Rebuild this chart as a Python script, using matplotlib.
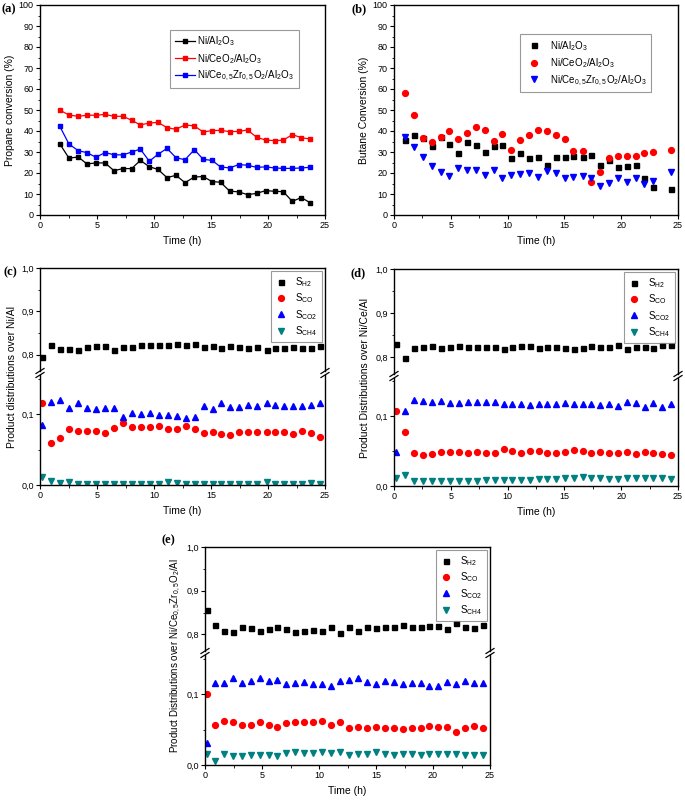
import matplotlib.pyplot as plt
from matplotlib.lines import Line2D
from matplotlib.ticker import MultipleLocator, FuncFormatter

plt.rcParams['font.family'] = ['Liberation Sans', 'DejaVu Sans']
plt.rcParams['mathtext.default'] = 'regular'

W, H = 685, 802

# (a) propane conversion (%)
time_a = [1.72, 2.54, 3.36, 4.12, 4.91, 5.70, 6.49, 7.28, 8.04, 8.80, 9.59, 10.35,
          11.14, 11.93, 12.72, 13.54, 14.32, 15.09, 15.84, 16.63, 17.42, 18.21,
          19.00, 19.79, 20.58, 21.34, 22.13, 22.92, 23.68]
prop_ni = [34.0, 27.1, 27.6, 24.3, 24.8, 24.8, 21.1, 22.1, 22.1, 26.0, 23.0, 21.7,
           17.8, 18.9, 15.4, 18.1, 18.3, 15.9, 15.6, 11.4, 11.0, 9.7, 10.3, 11.6,
           11.3, 11.1, 6.5, 8.3, 5.9]
prop_ce = [50.0, 47.6, 47.0, 47.5, 47.5, 47.9, 47.0, 47.0, 45.1, 42.9, 43.8, 44.1,
           41.6, 40.8, 42.9, 42.4, 39.5, 40.2, 40.3, 39.7, 39.8, 40.5, 37.0, 35.7,
           35.4, 35.6, 38.3, 36.8, 36.2]
prop_cezr = [42.4, 33.8, 30.6, 29.7, 27.5, 29.7, 28.7, 28.6, 30.0, 31.4, 25.6, 28.9,
             31.7, 27.3, 26.3, 31.1, 26.5, 26.0, 22.9, 22.4, 24.0, 23.7, 22.7, 22.9,
             22.4, 22.2, 22.2, 22.4, 22.7]

# (b) butane conversion (%)
time_b = [0.97, 1.73, 2.52, 3.31, 4.10, 4.87, 5.66, 6.42, 7.21, 7.98, 8.77, 9.53,
          10.32, 11.10, 11.88, 12.67, 13.46, 14.25, 15.04, 15.80, 16.60, 17.36,
          18.15, 18.94, 19.70, 20.50, 21.30, 22.05, 22.84, 24.40]
but_ni = [35.7, 38.0, 36.5, 32.8, 37.2, 34.0, 29.5, 35.0, 33.2, 30.2, 33.0, 33.2,
          27.0, 29.5, 27.0, 27.5, 23.8, 27.8, 27.8, 28.3, 27.8, 28.5, 23.8, 26.0,
          22.8, 23.5, 23.8, 17.7, 13.3, 12.5]
but_ce = [58.2, 47.6, 36.8, 34.9, 37.1, 40.0, 36.2, 39.0, 42.1, 40.6, 35.2, 38.6,
          31.0, 35.5, 37.9, 40.7, 40.0, 38.0, 36.3, 30.7, 30.5, 15.6, 20.3, 27.2,
          28.0, 28.1, 28.1, 29.7, 30.2, 30.9]
but_cezr = [37.0, 32.3, 27.5, 23.3, 20.4, 18.6, 22.3, 21.4, 21.5, 19.0, 21.4, 17.7,
            19.0, 19.5, 20.0, 18.3, 21.0, 20.0, 17.7, 18.2, 18.5, 17.4, 13.7, 15.3,
            17.7, 15.6, 17.7, 14.8, 16.1, 20.7]

# (c) product distributions over Ni/Al
time_c = [0.18, 0.97, 1.76, 2.55, 3.34, 4.13, 4.93, 5.72, 6.51, 7.30, 8.09, 8.89,
          9.68, 10.44, 11.23, 12.02, 12.80, 13.58, 14.37, 15.16, 15.92, 16.70,
          17.48, 18.27, 19.06, 19.88, 20.64, 21.44, 22.20, 22.99, 23.75, 24.57]
c_h2 = [0.795, 0.822, 0.813, 0.813, 0.810, 0.817, 0.819, 0.820, 0.810, 0.818, 0.818,
        0.821, 0.821, 0.821, 0.822, 0.824, 0.821, 0.824, 0.817, 0.819, 0.814, 0.819,
        0.818, 0.814, 0.817, 0.811, 0.816, 0.816, 0.818, 0.814, 0.816, 0.820]
c_co = [0.115, 0.059, 0.066, 0.079, 0.076, 0.076, 0.076, 0.073, 0.081, 0.087, 0.082,
        0.082, 0.082, 0.083, 0.079, 0.079, 0.083, 0.079, 0.073, 0.074, 0.072, 0.071,
        0.075, 0.075, 0.075, 0.075, 0.074, 0.075, 0.072, 0.076, 0.073, 0.067]
c_co2 = [0.084, 0.117, 0.120, 0.108, 0.115, 0.108, 0.107, 0.109, 0.109, 0.096, 0.102,
         0.100, 0.102, 0.099, 0.099, 0.097, 0.095, 0.096, 0.111, 0.107, 0.115, 0.110,
         0.110, 0.113, 0.111, 0.116, 0.113, 0.111, 0.112, 0.111, 0.113, 0.116]
c_ch4 = [0.011, 0.005, 0.003, 0.004, 0.002, 0.002, 0.002, 0.001, 0.002, 0.002, 0.002,
         0.002, 0.002, 0.002, 0.004, 0.003, 0.002, 0.002, 0.002, 0.002, 0.002, 0.002,
         0.002, 0.002, 0.002, 0.004, 0.002, 0.002, 0.002, 0.002, 0.003, 0.002]

# (d) product distributions over Ni/Ce/Al
time_d = [0.15, 0.94, 1.73, 2.52, 3.32, 4.11, 4.90, 5.69, 6.48, 7.28, 8.07, 8.86,
          9.65, 10.39, 11.15, 11.94, 12.73, 13.50, 14.26, 15.02, 15.82, 16.61,
          17.37, 18.16, 18.96, 19.75, 20.51, 21.28, 22.07, 22.83, 23.62, 24.41]
d_h2 = [0.831, 0.798, 0.820, 0.824, 0.826, 0.821, 0.824, 0.826, 0.824, 0.823, 0.824,
        0.824, 0.818, 0.824, 0.826, 0.826, 0.820, 0.824, 0.824, 0.821, 0.818, 0.821,
        0.826, 0.824, 0.824, 0.827, 0.818, 0.824, 0.824, 0.821, 0.827, 0.827]
d_co = [0.107, 0.077, 0.047, 0.045, 0.046, 0.049, 0.049, 0.049, 0.048, 0.049, 0.047,
        0.048, 0.053, 0.050, 0.048, 0.050, 0.050, 0.047, 0.048, 0.049, 0.052, 0.050,
        0.047, 0.049, 0.047, 0.047, 0.049, 0.046, 0.049, 0.048, 0.046, 0.044]
d_co2 = [0.049, 0.108, 0.123, 0.122, 0.121, 0.122, 0.119, 0.119, 0.121, 0.120, 0.120,
         0.120, 0.118, 0.117, 0.118, 0.116, 0.118, 0.118, 0.117, 0.119, 0.118, 0.117,
         0.117, 0.116, 0.118, 0.115, 0.121, 0.119, 0.114, 0.119, 0.114, 0.118]
d_ch4 = [0.011, 0.016, 0.007, 0.007, 0.007, 0.007, 0.007, 0.007, 0.007, 0.007, 0.008,
         0.008, 0.008, 0.008, 0.009, 0.009, 0.010, 0.010, 0.010, 0.011, 0.012, 0.013,
         0.012, 0.011, 0.010, 0.010, 0.011, 0.011, 0.012, 0.011, 0.011, 0.010]

# (e) product distributions over Ni/Ce0,5Zr0,5O2/Al
time_e = [0.20, 0.91, 1.70, 2.49, 3.27, 4.06, 4.82, 5.58, 6.34, 7.13, 7.92, 8.71,
          9.50, 10.29, 11.08, 11.87, 12.66, 13.45, 14.21, 14.97, 15.79, 16.58,
          17.34, 18.13, 18.92, 19.68, 20.47, 21.26, 22.05, 22.81, 23.57, 24.36]
e_h2 = [0.855, 0.821, 0.808, 0.806, 0.817, 0.815, 0.807, 0.813, 0.817, 0.812, 0.806,
        0.807, 0.811, 0.808, 0.818, 0.804, 0.816, 0.808, 0.817, 0.815, 0.817, 0.818,
        0.821, 0.818, 0.818, 0.819, 0.819, 0.813, 0.825, 0.818, 0.815, 0.821]
e_co = [0.100, 0.056, 0.062, 0.060, 0.057, 0.056, 0.061, 0.057, 0.053, 0.059, 0.060,
        0.060, 0.060, 0.062, 0.056, 0.061, 0.052, 0.054, 0.052, 0.054, 0.052, 0.052,
        0.051, 0.052, 0.052, 0.055, 0.054, 0.054, 0.047, 0.052, 0.055, 0.052]
e_co2 = [0.031, 0.116, 0.116, 0.123, 0.116, 0.118, 0.122, 0.118, 0.120, 0.114, 0.116,
         0.117, 0.114, 0.114, 0.112, 0.118, 0.120, 0.122, 0.117, 0.114, 0.119, 0.117,
         0.114, 0.116, 0.116, 0.111, 0.112, 0.117, 0.114, 0.118, 0.116, 0.115]
e_ch4 = [0.015, 0.006, 0.016, 0.013, 0.012, 0.014, 0.014, 0.014, 0.012, 0.017, 0.018,
         0.017, 0.017, 0.018, 0.017, 0.018, 0.014, 0.016, 0.015, 0.019, 0.015, 0.014,
         0.016, 0.016, 0.014, 0.015, 0.016, 0.016, 0.015, 0.014, 0.014, 0.014]

cat_labels = [r'Ni/Al$_2$O$_3$', r'Ni/CeO$_2$/Al$_2$O$_3$',
              r'Ni/Ce$_{0,5}$Zr$_{0,5}$O$_2$/Al$_2$O$_3$']
prod_labels = [r'S$_{H2}$', r'S$_{CO}$', r'S$_{CO2}$', r'S$_{CH4}$']
TEAL = '#008080'

fig = plt.figure(figsize=(W / 100, H / 100), dpi=100)


def rect(l, r, t, b):
    return [l / W, 1 - b / H, (r - l) / W, (b - t) / H]


def style(ax):
    ax.tick_params(direction='out', labelsize=6.5, length=3, width=0.8, pad=1.5,
                   top=False, right=False)
    ax.tick_params(which='minor', direction='out', length=1.8, width=0.6,
                   top=False, right=False)
    for s in ax.spines.values():
        s.set_linewidth(1.0)


def time_axis(ax):
    ax.set_xlim(0, 25)
    ax.xaxis.set_major_locator(MultipleLocator(5))
    ax.xaxis.set_minor_locator(MultipleLocator(2.5))
    ax.set_xlabel('Time (h)', fontsize=7.5, labelpad=4)


def tag(x, y, s):
    fig.text(x / W, 1 - y / H, s, fontsize=9, fontweight='bold',
             family='Liberation Serif', va='center', ha='left')


# ---- (a)
ax = fig.add_axes(rect(40, 325, 5, 215))
ax.plot(time_a, prop_ni, '-s', color='black', ms=3.3, lw=0.9, label=cat_labels[0])
ax.plot(time_a, prop_ce, '-s', color='red', ms=3.3, lw=0.9, label=cat_labels[1])
ax.plot(time_a, prop_cezr, '-s', color='blue', ms=3.3, lw=0.9, label=cat_labels[2])
ax.set_ylim(0, 100)
ax.yaxis.set_major_locator(MultipleLocator(10))
ax.yaxis.set_minor_locator(MultipleLocator(5))
time_axis(ax)
ax.set_ylabel('Propane conversion (%)', fontsize=7.5, labelpad=3)
style(ax)
ax.legend(loc='upper left', bbox_to_anchor=(0.44, 0.905), fontsize=7, frameon=True,
          fancybox=False, edgecolor='gray', handlelength=2.0, borderpad=0.5,
          labelspacing=0.35, handletextpad=0.3).get_frame().set_linewidth(0.8)
tag(2, 9, '(a)')

# ---- (b)
ax = fig.add_axes(rect(394, 678, 5, 215))
ax.plot(time_b, but_ni, 's', color='black', ms=3.6, label=cat_labels[0])
ax.plot(time_b, but_ce, 'o', color='red', ms=4.2, label=cat_labels[1])
ax.plot(time_b, but_cezr, 'v', color='blue', ms=4.4, label=cat_labels[2])
ax.set_ylim(0, 100)
ax.yaxis.set_major_locator(MultipleLocator(10))
ax.yaxis.set_minor_locator(MultipleLocator(5))
time_axis(ax)
ax.set_ylabel('Butane Conversion (%)', fontsize=7.5, labelpad=3)
style(ax)
ax.legend(loc='upper left', bbox_to_anchor=(0.425, 0.885), fontsize=7, frameon=True,
          fancybox=False, edgecolor='gray', handlelength=2.0, borderpad=0.5,
          labelspacing=0.35, handletextpad=0.6).get_frame().set_linewidth(0.8)
tag(351, 9, '(b)')

comma = FuncFormatter(lambda v, p: f'{v:.1f}'.replace('.', ','))


def broken_panel(l, r, t, brk, b, tm, h2, co, co2, ch4, ylabel, ylab_x, lab, lab_x,
                 lab_y, ylab_size=7.5):
    axt = fig.add_axes(rect(l, r, t, brk - 2))
    axb = fig.add_axes(rect(l, r, brk + 2, b))
    for a in (axt, axb):
        a.plot(tm, h2, 's', color='black', ms=3.6, label=prod_labels[0])
        a.plot(tm, co, 'o', color='red', ms=4.2, label=prod_labels[1])
        a.plot(tm, co2, '^', color='blue', ms=4.4, label=prod_labels[2])
        a.plot(tm, ch4, 'v', color=TEAL, ms=4.4, label=prod_labels[3])
        a.set_xlim(0, 25)
        style(a)
        a.yaxis.set_major_formatter(comma)
    axt.set_ylim(0.762, 1.0)
    axt.yaxis.set_major_locator(MultipleLocator(0.1))
    axt.yaxis.set_minor_locator(MultipleLocator(0.05))
    axt.spines['bottom'].set_visible(False)
    axt.tick_params(axis='x', which='both', bottom=False, labelbottom=False)
    axb.set_ylim(0, 0.155)
    axb.yaxis.set_major_locator(MultipleLocator(0.1))
    axb.yaxis.set_minor_locator(MultipleLocator(0.05))
    axb.spines['top'].set_visible(False)
    time_axis(axb)
    axt.legend(loc='upper right', bbox_to_anchor=(0.995, 0.99), fontsize=7,
               frameon=True, fancybox=False, edgecolor='gray', handlelength=1.2,
               borderpad=0.45, labelspacing=0.25, handletextpad=0.8,
               borderaxespad=0.2).get_frame().set_linewidth(0.8)
    for x in (l, r):
        for y in (brk - 2, brk + 2):
            fig.add_artist(Line2D([(x - 4) / W, (x + 4) / W],
                                  [1 - (y + 2.5) / H, 1 - (y - 2.5) / H],
                                  transform=fig.transFigure, color='black', lw=0.9))
    fig.text(ylab_x / W, 1 - (t + b) / 2 / H, ylabel, rotation=90,
             fontsize=ylab_size, ha='center', va='center')
    tag(lab_x, lab_y, lab)


broken_panel(40, 325, 268, 373, 485, time_c, c_h2, c_co, c_co2, c_ch4,
             'Product distributions over Ni/Al', 12, '(c)', 3, 272)
broken_panel(394, 678, 269, 376, 486, time_d, d_h2, d_co, d_co2, d_ch4,
             'Product Distributions over Ni/Ce/Al', 365, '(d)', 350, 273)
broken_panel(205, 490, 547, 653, 765, time_e, e_h2, e_co, e_co2, e_ch4,
             r'Product Distributions over Ni/Ce$_{0,5}$Zr$_{0,5}$O$_2$/Al', 176,
             '(e)', 162, 540, ylab_size=7.0)

fig.savefig('out.png', dpi=100)
